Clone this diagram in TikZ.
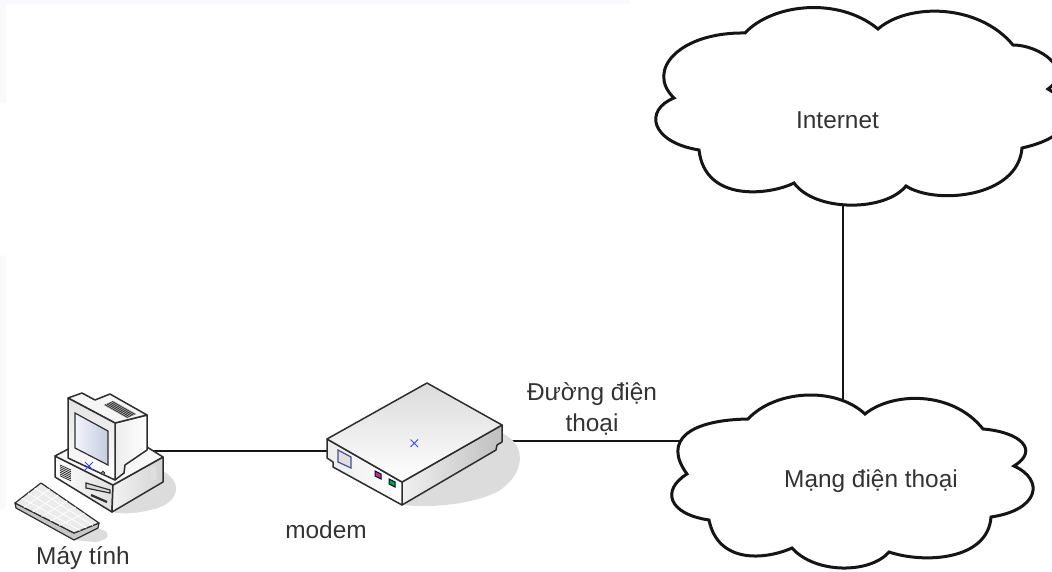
\documentclass[tikz,border=0pt]{standalone}
\usepackage{fontspec}
\setmainfont{Liberation Sans}
\usetikzlibrary{calc}
\definecolor{ink}{HTML}{151515}
\definecolor{txt}{HTML}{333333}
\definecolor{shadowgrey}{HTML}{DCDCDC}
\definecolor{edge}{HTML}{2E2E2E}
\definecolor{tint}{HTML}{FAFAFD}
\definecolor{screenA}{HTML}{C4CCE0}
\definecolor{screenB}{HTML}{F2F4FA}
\tikzset{
  wire/.style={draw=ink,line width=2.6pt},
  cloudline/.style={draw=ink,fill=white,line width=3pt,line join=miter},
  label/.style={font=\fontsize{24.4}{31}\selectfont,text=txt,inner sep=0pt,align=center},
  body/.style={draw=edge,line width=1.5pt,line join=round},
  thin/.style={draw=edge,line width=1pt,line join=round},
  shadowfill/.style={fill=shadowgrey,draw=none},
  cross/.style={draw=blue!75!white,line width=0.9pt}
}
\begin{document}
\begin{tikzpicture}[x=1pt,y=-1pt]
\useasboundingbox (0,0) rectangle (1052,572);
\clip (0,0) rectangle (1052,572);
% faint scan tints along the edges
\fill[tint] (0,0) rectangle (630,4);
\fill[tint] (0,0) rectangle (6,103);
\fill[tint] (0,255) rectangle (6,510);

% connector end points
\coordinate (pcR) at (150,451);
\coordinate (modemL) at (328,451);
\coordinate (modemR) at (503,441);
\coordinate (phoneL) at (682,441);
\coordinate (phoneT) at (843,400);
\coordinate (inetB) at (843,203);
\draw[wire] (pcR) -- (modemL);
\draw[wire] (modemR) -- (phoneL);
\draw[wire] (inetB) -- (phoneT);

% Internet cloud
\draw[cloudline] (745,33)
  .. controls (772,4) and (838,-4) .. (878,29)
  .. controls (908,3) and (978,3) .. (1013,45)
  .. controls (1040,45) and (1075,70) .. (1048,89)
  .. controls (1075,105) and (1080,135) .. (1022,148)
  .. controls (1018,198) and (935,205) .. (906,186)
  .. controls (885,212) and (815,212) .. (794,183)
  .. controls (770,195) and (705,203) .. (699,150)
  .. controls (650,142) and (644,110) .. (674,98)
  .. controls (645,70) and (680,32) .. (745,33) -- cycle;
\node[label] (internet) at (837.5,120) {Internet};

% Telephone network cloud
\draw[cloudline] (748,419)
  .. controls (775,390) and (835,386) .. (865,414)
  .. controls (892,392) and (952,390) .. (983,429)
  .. controls (1020,432) and (1040,450) .. (1014,466)
  .. controls (1045,480) and (1039,510) .. (991,517)
  .. controls (988,560) and (925,564) .. (889,552)
  .. controls (870,574) and (815,574) .. (792,548)
  .. controls (765,560) and (718,564) .. (709,520)
  .. controls (668,514) and (661,490) .. (687,474)
  .. controls (662,440) and (690,420) .. (748,419) -- cycle;
\node[label] (phonenet) at (871,481) {Mạng điện thoại};

% Computer: shadows
\fill[shadowfill] (160,470) .. controls (185,480) and (180,505) .. (150,510) .. controls (135,514) and (120,514) .. (112,512) -- cycle;
\fill[shadowfill] (95,528) .. controls (112,530) and (112,540) .. (95,542) -- (74,540) -- cycle;
% Computer: case
\shade[left color=white,right color=gray!25,body] (55,456) -- (113,485) -- (112,512) -- (55,477) -- cycle;
\shade[left color=gray!10,right color=gray!35,body] (113,485) -- (163,457) -- (163,482) -- (112,512) -- cycle;
\fill[white!97!black,draw=edge,line width=1.5pt,line join=round] (55,456) -- (72,447) -- (147,447) -- (163,457) -- (113,485) -- cycle;
\foreach \t in {0,1.8,...,12}{\draw[edge,line width=0.8pt] (60,{465+\t}) -- (71,{470+\t});}
\fill[gray!25] (151,467) rectangle (156,480);
\draw[edge,line width=1.2pt,fill=gray!30] (86,483) -- (110,490) -- (110,493) -- (86,488) -- cycle;
\draw[edge,line width=2.2pt] (91,495) -- (107,502);
% Computer: monitor
\shade[left color=gray!15,right color=white,body] (115,423) -- (147,415) -- (147,450) -- (125,465) -- (124,473) -- (115,480) -- cycle;
\fill[white!96!black,draw=edge,line width=1.5pt,line join=round] (68,398) -- (82,393) -- (95,400) -- (110,394) -- (147,415) -- (115,423) -- cycle;
\shade[top color=gray!22,bottom color=white,body] (68,398) -- (115,423) -- (115,480) -- (68,458) -- cycle;
\shade[left color=screenB,right color=screenA,draw=edge,line width=1.2pt] (75,413) -- (108,431) -- (108,465) -- (75,448) -- cycle;
\fill[edge] (113,401) -- (136,414) -- (127,418) -- (104,405) -- cycle;
\foreach \k in {0,0.2,...,1}{\draw[white!75!black,line width=0.5pt] ($(113,401)!\k!(104,405)$) -- ($(136,414)!\k!(127,418)$);}
\draw[edge,line width=0.8pt,fill=gray!50] (103,473) circle (1.8);
\draw[cross] (85,462) -- (93,470) (85,470) -- (93,462);
% Computer: keyboard
\coordinate (kA) at (15,503);
\coordinate (kB) at (41,483);
\coordinate (kC) at (99,523);
\coordinate (kD) at (74,533);
\fill[gray!45,draw=edge,line width=1.2pt,line join=round] (kA) -- (16,508) -- (74,540) -- (98,528) -- (kC) -- (kD) -- cycle;
\fill[white!92!black,draw=edge,line width=1.2pt,line join=round] (kA) -- (kB) -- (kC) -- (kD) -- cycle;
\foreach \k in {0.15,0.3,...,0.9}{\draw[white,line width=0.8pt] ($(kA)!\k!(kD)$) -- ($(kB)!\k!(kC)$);}
\foreach \k in {0.25,0.5,0.75}{\draw[white,line width=0.8pt] ($(kA)!\k!(kB)$) -- ($(kD)!\k!(kC)$);}
\node[label] (pc) at (83,558) {Máy tính};

% Modem
\fill[shadowfill] (502,433) .. controls (528,445) and (525,475) .. (497,492) .. controls (470,505) and (430,508) .. (404,505) -- cycle;
\shade[left color=gray!12,right color=gray!50,body] (402,482) -- (502,425) -- (502,442) -- (497,445) -- (496,450) -- (402,505) -- cycle;
\shade[left color=white!85!gray,right color=white,body] (327,439) -- (402,482) -- (402,505) -- (333,467) -- (333,462) -- (327,458) -- cycle;
\shade[top color=white!86!black,bottom color=white,body] (327,439) -- (427,383) -- (502,425) -- (402,482) -- cycle;
\draw[blue!40!black!70,line width=1.2pt,fill=white!88!black] (338,450) -- (351,457) -- (351,468) -- (338,462) -- cycle;
\draw[blue!45!black,line width=1pt,fill=red!65!black!75] (375,471) -- (381,474) -- (381,479) -- (375,476) -- cycle;
\draw[blue!45!black,line width=1pt,fill=green!70!black] (389,479) -- (395,482) -- (395,487) -- (389,484) -- cycle;
\draw[cross] (410.5,439.5) -- (418,447) (410.5,447) -- (418,439.5);
\node[label] (modem) at (326,530) {modem};
\node[label] (line) at (592,409) {Đường điện\\thoại};
\end{tikzpicture}
\end{document}
